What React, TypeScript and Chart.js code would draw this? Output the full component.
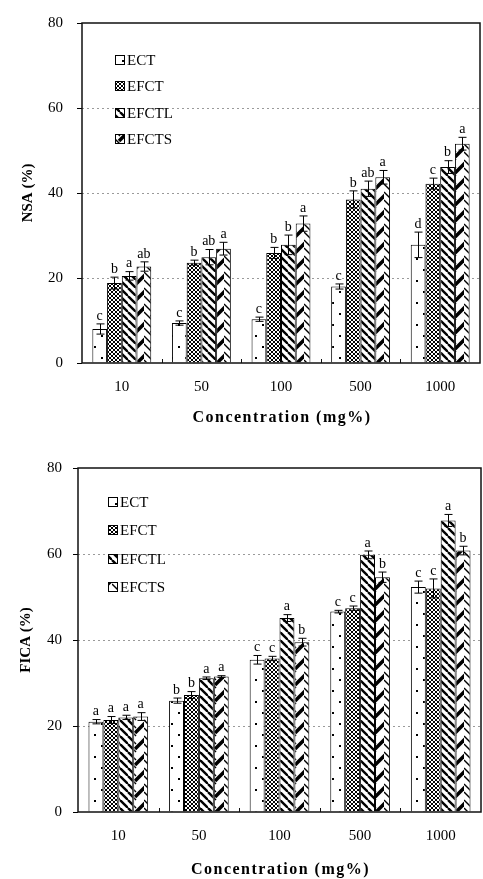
import React, { useEffect, useRef } from 'react';
import { Chart, registerables } from 'chart.js';

Chart.register(...registerables);

// ---------- data ----------
const CATEGORIES = ['10', '50', '100', '500', '1000'];
const SERIES = ['ECT', 'EFCT', 'EFCTL', 'EFCTS'];
const Y_TICKS = [0, 20, 40, 60, 80];
const GRID_VALUES = [20, 40, 60];
const X_TITLE = 'Concentration (mg%)';

// NSA (%)
const NSA_ECT = [8.0, 9.4, 10.3, 18.0, 27.8];
const NSA_EFCT = [18.8, 23.6, 25.9, 38.5, 42.2];
const NSA_EFCTL = [20.5, 24.9, 27.8, 41.0, 46.1];
const NSA_EFCTS = [22.7, 26.9, 32.8, 43.7, 51.6];
const NSA_ECT_ERR = [1.2, 0.5, 0.5, 0.6, 3.0];
const NSA_EFCT_ERR = [1.4, 0.6, 1.3, 2.0, 1.3];
const NSA_EFCTL_ERR = [1.0, 1.8, 2.3, 1.8, 1.5];
const NSA_EFCTS_ERR = [1.1, 1.5, 1.8, 1.6, 1.5];
const NSA_ECT_SIG = ['c', 'c', 'c', 'c', 'd'];
const NSA_EFCT_SIG = ['b', 'b', 'b', 'b', 'c'];
const NSA_EFCTL_SIG = ['a', 'ab', 'b', 'ab', 'b'];
const NSA_EFCTS_SIG = ['ab', 'a', 'a', 'a', 'a'];

// FICA (%)
const FICA_ECT = [21.0, 25.9, 35.4, 46.6, 52.3];
const FICA_EFCT = [21.4, 27.2, 35.7, 47.4, 52.0];
const FICA_EFCTL = [22.0, 31.1, 45.1, 59.8, 67.8];
const FICA_EFCTS = [22.2, 31.5, 39.5, 54.6, 60.8];
const FICA_ECT_ERR = [0.5, 0.6, 1.0, 0.3, 1.4];
const FICA_EFCT_ERR = [0.8, 0.8, 0.5, 0.5, 2.2];
const FICA_EFCTL_ERR = [0.5, 0.3, 0.8, 0.9, 1.4];
const FICA_EFCTS_ERR = [0.9, 0.2, 0.9, 1.2, 1.0];
const FICA_ECT_SIG = ['a', 'b', 'c', 'c', 'c'];
const FICA_EFCT_SIG = ['a', 'b', 'c', 'c', 'c'];
const FICA_EFCTL_SIG = ['a', 'a', 'a', 'a', 'a'];
const FICA_EFCTS_SIG = ['a', 'a', 'b', 'b', 'b'];

const FONT = '"Liberation Serif", "Times New Roman", serif';

type Spec = {
  title: string;
  values: number[][];
  errors: number[][];
  sig: string[][];
  top: number;
  height: number;
  padTop: number;
  padRight: number;
  yWidth: number;
  yTickPad: number;
  yTitlePad: number;
  xHeight: number;
  xTitleOff: number;
  legendLeft: number;
  legendTop: number;
  legendGap: number;
};

const PANELS: Spec[] = [
  {
    title: 'NSA (%)',
    values: [NSA_ECT, NSA_EFCT, NSA_EFCTL, NSA_EFCTS],
    errors: [NSA_ECT_ERR, NSA_EFCT_ERR, NSA_EFCTL_ERR, NSA_EFCTS_ERR],
    sig: [NSA_ECT_SIG, NSA_EFCT_SIG, NSA_EFCTL_SIG, NSA_EFCTS_SIG],
    top: 0,
    height: 432,
    padTop: 14,
    padRight: 3,
    yWidth: 82,
    yTickPad: 14,
    yTitlePad: 19,
    xHeight: 69,
    xTitleOff: 55,
    legendLeft: 33,
    legendTop: 37,
    legendGap: 26.4,
  },
  {
    title: 'FICA (%)',
    values: [FICA_ECT, FICA_EFCT, FICA_EFCTL, FICA_EFCTS],
    errors: [FICA_ECT_ERR, FICA_EFCT_ERR, FICA_EFCTL_ERR, FICA_EFCTS_ERR],
    sig: [FICA_ECT_SIG, FICA_EFCT_SIG, FICA_EFCTL_SIG, FICA_EFCTS_SIG],
    top: 432,
    height: 447,
    padTop: 36,
    padRight: 2,
    yWidth: 78,
    yTickPad: 11,
    yTitlePad: 17,
    xHeight: 67,
    xTitleOff: 58,
    legendLeft: 30,
    legendTop: 34,
    legendGap: 28.3,
  },
];

function makePattern(kind: number): CanvasPattern {
  const c = document.createElement('canvas');
  const g = c.getContext('2d')!;
  if (kind === 0) {
    c.width = 14; c.height = 22;
    g.fillStyle = '#fff'; g.fillRect(0, 0, 14, 22);
    g.fillStyle = '#000';
    g.fillRect(3, 5, 2, 2);
    g.fillRect(10, 16, 2, 2);
  } else if (kind === 1) {
    c.width = 4; c.height = 4;
    g.fillStyle = '#fff'; g.fillRect(0, 0, 4, 4);
    g.fillStyle = '#000';
    [[0, 0], [1, 1], [2, 2], [3, 3], [3, 0], [2, 1], [1, 2], [0, 3]].forEach(([px, py]) => g.fillRect(px, py, 1, 1));
  } else if (kind === 2) {
    c.width = 8; c.height = 8;
    g.fillStyle = '#fff'; g.fillRect(0, 0, 8, 8);
    g.strokeStyle = '#000'; g.lineWidth = 2.4;
    [-8, 0, 8].forEach((k) => { g.beginPath(); g.moveTo(k, 0); g.lineTo(k + 8, 8); g.stroke(); });
  } else {
    c.width = 16; c.height = 16;
    g.fillStyle = '#fff'; g.fillRect(0, 0, 16, 16);
    g.strokeStyle = '#000';
    g.lineWidth = 1.4;
    [-16, -8, 0, 8, 16].forEach((k) => { g.beginPath(); g.moveTo(0, k); g.lineTo(8, k + 8); g.stroke(); });
    g.lineWidth = 3.6;
    [-16, 0, 16].forEach((k) => { g.beginPath(); g.moveTo(7, k + 13); g.lineTo(17, k + 3); g.stroke(); });
  }
  return g.createPattern(c, 'repeat')!;
}

function Panel({ spec }: { spec: Spec }) {
  const ref = useRef<HTMLCanvasElement>(null);
  useEffect(() => {
    const patterns = SERIES.map((_, i) => makePattern(i));
    const datasets = SERIES.map((name, i) => ({
      label: name,
      data: spec.values[i],
      backgroundColor: patterns[i],
      borderColor: '#000',
      borderWidth: 1,
      categoryPercentage: 0.74,
      barPercentage: 1,
    }));

    const overlay = {
      id: 'overlay',
      beforeDatasetsDraw(chart: any) {
        const { ctx, chartArea: a, scales } = chart;
        const y = scales.y;
        ctx.save();
        ctx.strokeStyle = '#9a9a9a';
        ctx.lineWidth = 1;
        ctx.setLineDash([2, 3]);
        GRID_VALUES.forEach((v) => {
          const py = Math.round(y.getPixelForValue(v)) + 0.5;
          ctx.beginPath(); ctx.moveTo(a.left, py); ctx.lineTo(a.right, py); ctx.stroke();
        });
        ctx.restore();
      },
      afterDatasetsDraw(chart: any) {
        const { ctx, chartArea: a, scales } = chart;
        const x = scales.x;
        const y = scales.y;
        ctx.save();
        // error bars and letters
        spec.values.forEach((vals, i) => {
          const meta = chart.getDatasetMeta(i);
          vals.forEach((v, j) => {
            const bar = meta.data[j];
            const e = spec.errors[i][j];
            const yt = y.getPixelForValue(v + e);
            const yb = y.getPixelForValue(v - e);
            const bx = Math.round(bar.x) + 0.5;
            ctx.strokeStyle = '#000';
            ctx.lineWidth = 1;
            ctx.beginPath();
            ctx.moveTo(bx, yt); ctx.lineTo(bx, yb);
            ctx.moveTo(bx - 4, yt); ctx.lineTo(bx + 4, yt);
            ctx.moveTo(bx - 4, yb); ctx.lineTo(bx + 4, yb);
            ctx.stroke();
            ctx.fillStyle = '#000';
            ctx.font = `14px ${FONT}`;
            ctx.textAlign = 'center';
            ctx.textBaseline = 'bottom';
            ctx.fillText(spec.sig[i][j], bar.x, yt - 1);
          });
        });
        // frame
        ctx.strokeStyle = '#111';
        ctx.lineWidth = 1.5;
        ctx.strokeRect(a.left, a.top, a.right - a.left, a.bottom - a.top);
        // small inward ticks between categories
        ctx.lineWidth = 1;
        for (let k = 0; k < CATEGORIES.length - 1; k++) {
          const px = Math.round((x.getPixelForValue(k) + x.getPixelForValue(k + 1)) / 2) + 0.5;
          ctx.beginPath(); ctx.moveTo(px, a.bottom); ctx.lineTo(px, a.bottom - 4); ctx.stroke();
        }
        // legend
        SERIES.forEach((name, i) => {
          const cy = Math.round(a.top + spec.legendTop + i * spec.legendGap);
          const lx = Math.round(a.left + spec.legendLeft);
          ctx.fillStyle = patterns[i];
          ctx.fillRect(lx, cy - 5, 10, 10);
          ctx.strokeStyle = '#000';
          ctx.lineWidth = 1;
          ctx.strokeRect(lx + 0.5, cy - 4.5, 9, 9);
          ctx.fillStyle = '#000';
          ctx.font = `15px ${FONT}`;
          ctx.textAlign = 'left';
          ctx.textBaseline = 'middle';
          ctx.fillText(name, lx + 12, cy + 1);
        });
        // x axis title
        ctx.font = `bold 16px ${FONT}`;
        (ctx as any).letterSpacing = '1.5px';
        ctx.textAlign = 'center';
        ctx.textBaseline = 'middle';
        ctx.fillText(X_TITLE, (a.left + a.right) / 2 + 1, a.bottom + spec.xTitleOff);
        (ctx as any).letterSpacing = '0px';
        ctx.restore();
      },
    };

    const chart = new Chart(ref.current!, {
      type: 'bar',
      data: { labels: CATEGORIES, datasets },
      options: {
        responsive: false,
        animation: false,
        devicePixelRatio: 1,
        layout: { padding: { top: spec.padTop, right: spec.padRight, left: 0, bottom: 0 } },
        plugins: { legend: { display: false }, tooltip: { enabled: false } },
        scales: {
          x: {
            grid: { display: false, drawTicks: false },
            border: { display: false },
            ticks: { font: { family: FONT, size: 15 }, color: '#000', padding: 15, maxRotation: 0 },
            afterFit: (s: any) => { s.height = spec.xHeight; },
          },
          y: {
            min: 0,
            max: 80,
            afterBuildTicks: (s: any) => { s.ticks = Y_TICKS.map((v) => ({ value: v })); },
            grid: { drawOnChartArea: false, drawTicks: true, tickLength: 5, color: '#000' },
            border: { display: false },
            ticks: { font: { family: FONT, size: 15 }, color: '#000', padding: spec.yTickPad },
            title: {
              display: true,
              text: spec.title,
              font: { family: FONT, size: 15, weight: 'bold' },
              color: '#000',
              padding: { top: spec.yTitlePad, bottom: 0 },
            },
            afterFit: (s: any) => { s.width = spec.yWidth; },
          },
        },
      } as any,
      plugins: [overlay],
    });
    return () => chart.destroy();
  }, []);
  return (
    <canvas
      ref={ref}
      width={483}
      height={spec.height}
      style={{ position: 'absolute', left: 0, top: spec.top, width: 483, height: spec.height, display: 'block' }}
    />
  );
}

export default function App() {
  return (
    <div style={{ position: 'absolute', left: 0, top: 0, width: 483, height: 879, background: '#fff' }}>
      {PANELS.map((p) => (
        <Panel key={p.title} spec={p} />
      ))}
    </div>
  );
}
